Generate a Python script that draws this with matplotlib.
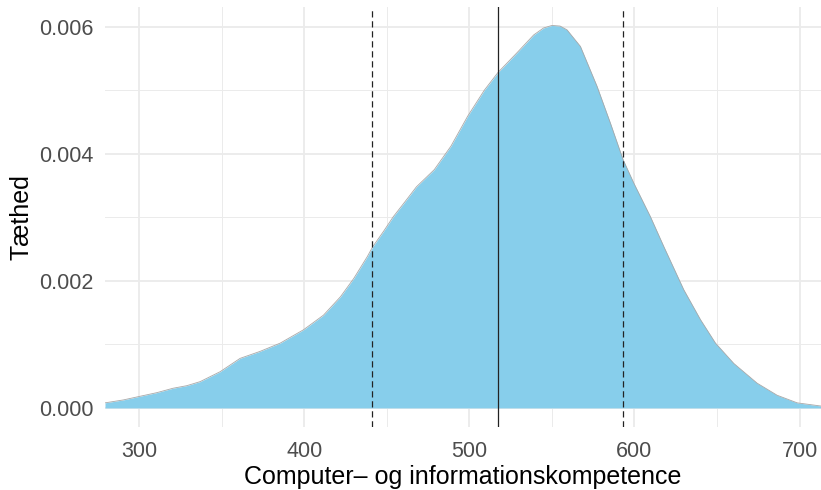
import matplotlib
matplotlib.use("Agg")
import matplotlib.pyplot as plt
import numpy as np

# density curve
score = [279.4, 290.5, 300, 310.7, 320.6, 328.9, 337, 349.1, 361.2, 373.3, 385.5,
         399.6, 411.7, 422, 430.1, 438.2, 441.6, 448.1, 454, 461.2, 468, 478.8,
         488.9, 499, 509.1, 517.4, 528.9, 539, 545, 550.1, 555, 559.2, 567.3,
         577.4, 585.5, 593.1, 599.6, 609.7, 617.8, 629.9, 640, 649.1, 660.2,
         674.3, 686.4, 698.6, 713]
density = [0.00008, 0.000126, 0.00018, 0.00024, 0.00031, 0.00035, 0.000414, 0.00057,
           0.00078, 0.00089, 0.00102, 0.00123, 0.00146, 0.00175, 0.00204, 0.00238,
           0.00254, 0.00278, 0.00301, 0.00325, 0.00348, 0.00375, 0.00412, 0.00459,
           0.005, 0.00528, 0.00559, 0.00587, 0.00598, 0.00602, 0.00601, 0.00595,
           0.00569, 0.00506, 0.00448, 0.00391, 0.00354, 0.00301, 0.00254, 0.00186,
           0.00139, 0.00102, 0.0007, 0.00039, 0.0002, 0.00008, 0.00003]

q_low = 441.2
mean_val = 517.2
q_high = 593.3

xticks = [300, 400, 500, 600, 700]
yticks = [0.000, 0.002, 0.004, 0.006]

plt.rcParams['font.family'] = ['Liberation Sans', 'DejaVu Sans']

fig = plt.figure(figsize=(8.21, 4.90), dpi=100)
ax = fig.add_axes([105 / 821, 1 - 427 / 490, 716 / 821, 420 / 490])

ax.fill_between(score, density, 0, color='#87ceeb', linewidth=0, zorder=2)
ax.plot(score, density, color='#a8a8a8', linewidth=0.6, zorder=3,
        solid_joinstyle='round')

ax.axvline(q_low, color='#222222', linestyle=(0, (5, 3)), linewidth=0.9, zorder=4)
ax.axvline(mean_val, color='#222222', linewidth=0.9, zorder=4)
ax.axvline(q_high, color='#222222', linestyle=(0, (5, 3)), linewidth=0.9, zorder=4)

ax.set_xlim(279.4, 713)
ax.set_ylim(-0.0003, 0.00631)
ax.set_xticks(xticks)
ax.set_xticks([350, 450, 550, 650], minor=True)
ax.set_yticks(yticks)
ax.set_yticks([0.001, 0.003, 0.005], minor=True)
ax.set_yticklabels(['%.3f' % v for v in yticks])

ax.grid(True, which='major', color='#ebebeb', linewidth=1.3, zorder=0)
ax.grid(True, which='minor', color='#ebebeb', linewidth=0.7, zorder=0)
ax.set_axisbelow(True)
for s in ax.spines.values():
    s.set_visible(False)
ax.tick_params(which='both', length=0, labelsize=15.5, labelcolor='#4d4d4d')
ax.tick_params(axis='y', pad=8)
ax.tick_params(axis='x', pad=10)

ax.set_xlabel('Computer\u2013 og informationskompetence', fontsize=18, labelpad=2)
ax.set_ylabel('Tæthed', fontsize=18, labelpad=4)

fig.savefig('out.png', dpi=100)
